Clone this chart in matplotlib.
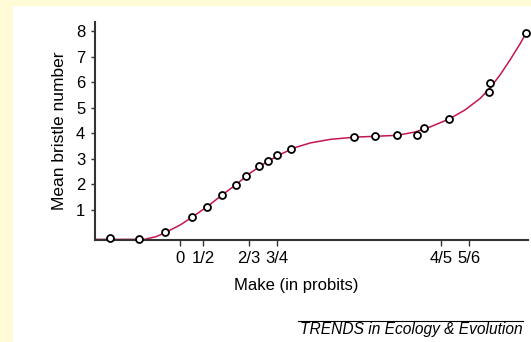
import matplotlib
matplotlib.use("Agg")
from matplotlib import pyplot as plt
from matplotlib.patches import Rectangle
from matplotlib.lines import Line2D

plt.rcParams['font.family'] = ['Liberation Sans', 'DejaVu Sans']

# measured points (make in probits, mean bristle number)
make_pts = [-1.42, -0.83, -0.32, 0.23, 0.53, 0.83, 1.11, 1.31, 1.57, 1.75, 1.93,
            2.21, 3.47, 3.88, 4.32, 4.72, 4.87, 5.36, 6.17, 6.19, 6.91]
bristle_pts = [-0.11, -0.14, 0.12, 0.72, 1.12, 1.58, 1.98, 2.34, 2.72, 2.91, 3.15,
               3.37, 3.85, 3.88, 3.94, 3.94, 4.20, 4.57, 5.62, 5.98, 7.95]

# fitted curve
make_fit = [-1.714, -0.81, -0.71, -0.61, -0.51, -0.41, -0.31, -0.01, 0.23, 0.53, 0.83,
            1.11, 1.39, 1.69, 1.99, 2.29, 2.59, 2.99, 3.49, 3.89, 4.33, 4.69, 4.99,
            5.37, 5.69, 5.99, 6.19, 6.39, 6.59, 6.79, 6.91]
bristle_fit = [-0.165, -0.165, -0.16, -0.11, -0.07, 0.01, 0.10, 0.40, 0.71, 1.12, 1.58,
               1.99, 2.44, 2.84, 3.17, 3.44, 3.62, 3.76, 3.85, 3.88, 3.92, 4.05, 4.25,
               4.56, 4.92, 5.37, 5.78, 6.30, 6.89, 7.52, 7.95]

xtick_pos = [-0.014, 0.452, 1.36, 1.92, 5.212, 5.766]
xtick_labels = ['0', '1/2', '2/3', '3/4', '4/5', '5/6']
ytick_pos = [1, 2, 3, 4, 5, 6, 7, 8]

W, H = 531, 342
fig = plt.figure(figsize=(W/100, H/100), dpi=100)
fig.patch.set_facecolor('#fffbd6')
fig.patches.append(Rectangle((12.7/W, 0), 1, 1 - 5.7/H, transform=fig.transFigure,
                             facecolor='white', edgecolor='none', zorder=-5))

ax = fig.add_axes([95/W, 1 - 240/H, 433/W, 218.3/H])
ax.set_facecolor('none')

ax.plot(make_fit, bristle_fit, color='#c4154f', lw=1.1, zorder=2)
ax.plot(make_pts, bristle_pts, ls='none', marker='o', markersize=5,
        markerfacecolor='white', markeredgecolor='black', markeredgewidth=1.3,
        zorder=3, clip_on=False)

ax.set_xlim(-1.714, 6.946)
ax.set_ylim(-0.19, 8.38)
for s in ['top', 'right']:
    ax.spines[s].set_visible(False)
for s in ['left', 'bottom']:
    ax.spines[s].set_color('#333333')
    ax.spines[s].set_linewidth(1.5)

ax.set_xticks(xtick_pos)
ax.set_xticklabels(xtick_labels)
ax.set_yticks(ytick_pos)
ax.tick_params(axis='y', labelsize=12, length=3, width=1, color='#333333', pad=4)
ax.tick_params(axis='x', labelsize=12, length=4, width=1, color='#333333', pad=4)

ax.set_ylabel('Mean bristle number', fontsize=12.5)
ax.yaxis.set_label_coords(-0.064, 0.5)
ax.set_xlabel('Make (in probits)', fontsize=12)
ax.xaxis.set_label_coords(0.4647, -0.176)

fig.add_artist(Line2D([298/W, 523/W], [1 - 320.7/H, 1 - 320.7/H], color='black', lw=0.8))
fig.text(523/W, 1 - 334/H, 'TRENDS in Ecology & Evolution', ha='right', va='baseline',
         fontsize=11.2, style='italic')

fig.savefig('out.png', dpi=100, facecolor=fig.get_facecolor())
